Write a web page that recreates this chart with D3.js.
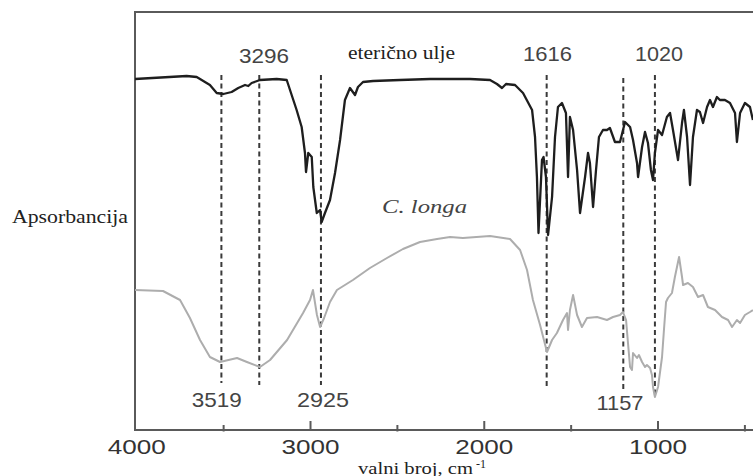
<!DOCTYPE html>
<html><head><meta charset="utf-8">
<script src="https://cdn.jsdelivr.net/npm/d3@7"></script>
<style>html,body{margin:0;padding:0;background:#fff;} svg{display:block}</style>
</head><body>
<svg id="chart" width="753" height="476"></svg>
<script>
// ---- data (wavenumber in cm-1, intensity in arbitrary units) ----
const oilWn  = [4007,3710,3652,3576,3537,3499,3451,3413,3374,3355,3336,3288,3192,3134,3096,3077,3048,3029,3023,3010,2990,2981,2961,2942,2933,2914,2885,2856,2827,2799,2770,2741,2724,2695,2637,2482,2309,2079,1964,1924,1895,1872,1820,1774,1722,1705,1694,1685,1665,1656,1642,1630,1607,1590,1573,1550,1527,1515,1504,1486,1463,1446,1417,1400,1389,1371,1354,1337,1314,1291,1274,1245,1216,1187,1158,1141,1118,1112,1089,1072,1055,1038,1026,1015,997,974,946,928,911,882,859,848,830,813,796,773,756,738,715,698,681,658,641,612,583,554,543,525,497,468,451];
const oilAbs = [351,354,353,345,337,336,338,342,345,344,347,350,351,350,330,320,303,277,258,277,273,243,217,220,208,217,230,257,290,330,342,335,343,348,349,350,351,351,350,346,342,346,345,337,320,293,253,197,270,273,253,195,233,293,323,327,317,253,313,300,260,217,253,277,267,223,260,293,300,300,302,288,288,308,303,290,267,253,283,298,287,260,250,277,300,295,313,317,300,270,307,320,293,245,293,320,318,307,323,330,323,333,330,330,327,317,288,317,327,323,310];

const longaWn  = [4007,3846,3748,3691,3633,3576,3518,3420,3363,3288,3230,3132,3040,3000,2983,2960,2942,2919,2885,2845,2753,2655,2557,2465,2367,2269,2194,2120,1964,1849,1791,1751,1717,1676,1636,1607,1579,1544,1521,1515,1504,1486,1463,1435,1406,1348,1291,1256,1216,1199,1181,1170,1158,1147,1141,1118,1107,1089,1072,1061,1043,1032,1026,1015,997,974,963,951,940,917,900,888,876,859,853,825,796,767,738,710,669,629,594,571,543,525,497,468,451];
const longaAbs = [140,139,130,112,90,73,68,72,68,63,70,90,117,130,140,115,103,112,128,140,150,162,172,181,188,191,193,192,194,191,180,160,130,105,78,90,97,110,117,100,120,135,115,103,112,113,110,113,115,118,110,87,63,60,77,72,75,68,63,65,62,55,43,33,43,73,100,128,132,137,153,163,173,153,145,147,143,133,135,123,120,113,110,103,110,107,115,118,120];

// dashed marker lines
const markerWn     = [3510,3292,2937,1638,1197,1015];
const markerTop    = [355,355,355,355,352,355];
const markerBottom = [47,45,45,43,40,33];

// peak labels
const peakLabels = ["3296","1616","1020","3519","2925","1157"];
const peakLabelWn = [3265,1633,992,3537,2925,1216];
const peakLabelY  = [367,369,369,23,23,20];
const peakLabelLen = [50,49,48,50,52,47];

// axis ticks
const majorTicks = [4000,3000,2000,1000];
const minorTicks = [3500,2500,1500,500];

const svg = d3.select('#chart');
const W = 753, H = 476;
const x = d3.scaleLinear().domain([4000,500]).range([136.25,744.4]);
const y = d3.scaleLinear().domain([0,418]).range([430,12]);

const frameColor = '#5a5a5a';
const frameLeft = 135, frameTop = y(418), frameBottom = y(0);

// frame
svg.append('line').attr('x1',frameLeft).attr('x2',W).attr('y1',frameTop).attr('y2',frameTop)
  .attr('stroke',frameColor).attr('stroke-width',2);
svg.append('line').attr('x1',frameLeft).attr('x2',frameLeft).attr('y1',frameTop-1).attr('y2',frameBottom+1)
  .attr('stroke',frameColor).attr('stroke-width',2);

// major axis
const gMaj = svg.append('g').attr('transform',`translate(0,${frameBottom})`)
  .call(d3.axisBottom(x).tickValues(majorTicks).tickSize(-9).tickPadding(0).tickFormat(d3.format('d')));
gMaj.select('.domain').remove();
gMaj.selectAll('.tick line').attr('stroke',frameColor).attr('stroke-width',2);
gMaj.selectAll('.tick line').filter(d=>d===4000).remove();
gMaj.selectAll('.tick text').attr('dy',null).attr('y',24)
  .attr('font-family','"Liberation Sans", Arial, sans-serif').attr('font-size',21)
  .attr('fill','#333').attr('textLength',58).attr('lengthAdjust','spacingAndGlyphs');

// minor axis
const gMin = svg.append('g').attr('transform',`translate(0,${frameBottom})`)
  .call(d3.axisBottom(x).tickValues(minorTicks).tickSize(-5).tickFormat(''));
gMin.select('.domain').remove();
gMin.selectAll('.tick line').attr('stroke',frameColor).attr('stroke-width',2).attr('y2',-5).attr('y1',1.5);

// bottom axis line
svg.append('line').attr('x1',frameLeft).attr('x2',W).attr('y1',frameBottom).attr('y2',frameBottom)
  .attr('stroke',frameColor).attr('stroke-width',2);

// dashed lines
svg.append('g').selectAll('line').data(markerWn).join('line')
  .attr('x1',d=>x(d)).attr('x2',d=>x(d))
  .attr('y1',(d,i)=>y(markerTop[i])).attr('y2',(d,i)=>y(markerBottom[i]))
  .attr('stroke','#3a3a3a').attr('stroke-width',2).attr('stroke-dasharray','5,3.5');

// spectra
const line = d3.line().x(d=>x(d[0])).y(d=>y(d[1]));
svg.append('path').datum(longaWn.map((w,i)=>[w,longaAbs[i]]))
  .attr('d',line).attr('fill','none').attr('stroke','#adadad').attr('stroke-width',2)
  .attr('stroke-linejoin','round');
svg.append('path').datum(oilWn.map((w,i)=>[w,oilAbs[i]]))
  .attr('d',line).attr('fill','none').attr('stroke','#1e1e1e').attr('stroke-width',2.3)
  .attr('stroke-linejoin','round');

// peak labels
svg.append('g').selectAll('text').data(peakLabels).join('text')
  .attr('x',(d,i)=>x(peakLabelWn[i])).attr('y',(d,i)=>y(peakLabelY[i]))
  .attr('text-anchor','middle')
  .attr('font-family','"Liberation Sans", Arial, sans-serif').attr('font-size',21)
  .attr('fill','#444').attr('textLength',(d,i)=>peakLabelLen[i]).attr('lengthAdjust','spacingAndGlyphs')
  .text(d=>d);

// text labels
const serif = '"Liberation Serif", "Times New Roman", serif';
svg.append('text').attr('x',348).attr('y',58.5).attr('font-family',serif).attr('font-size',18.5)
  .attr('fill','#222').attr('textLength',107).attr('lengthAdjust','spacingAndGlyphs').text('eterično ulje');
svg.append('text').attr('x',382).attr('y',213).attr('font-family',serif).attr('font-size',18.5)
  .attr('font-style','italic').attr('fill','#444').attr('textLength',85).attr('lengthAdjust','spacingAndGlyphs').text('C. longa');
svg.append('text').attr('x',12).attr('y',223).attr('font-family',serif).attr('font-size',18)
  .attr('fill','#222').attr('textLength',116).attr('lengthAdjust','spacingAndGlyphs').text('Apsorbancija');
svg.append('text').attr('x',358).attr('y',473.7).attr('font-family',serif).attr('font-size',16)
  .attr('fill','#222').attr('textLength',115).attr('lengthAdjust','spacingAndGlyphs').text('valni broj, cm');
svg.append('text').attr('x',476).attr('y',467.5).attr('font-family',serif).attr('font-size',12)
  .attr('fill','#222').text('-1');
</script>
</body></html>
